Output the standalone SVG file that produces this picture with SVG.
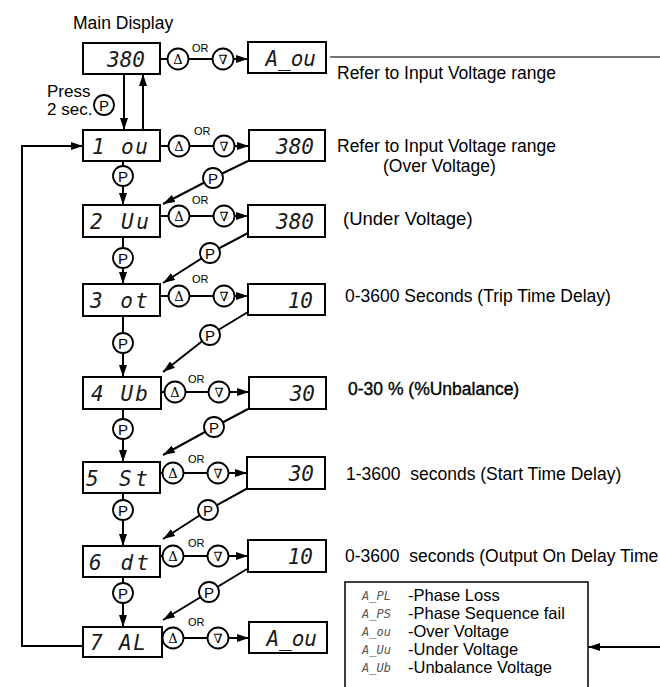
<svg xmlns="http://www.w3.org/2000/svg" width="660" height="687" viewBox="0 0 660 687">
<style>
.bx{fill:#fff;stroke:#000;stroke-width:2}
.c{fill:#fff;stroke:#000;stroke-width:1.8}
.ln{fill:none;stroke:#000;stroke-width:2}
.seg{font-family:"DejaVu Sans Mono",monospace;font-style:italic;font-size:21px;fill:#1a1a1a}
.t{font-family:"Liberation Sans",Arial,sans-serif;font-size:17.5px;fill:#000;white-space:pre}
.or{font-family:"Liberation Sans",Arial,sans-serif;font-size:11px;fill:#000}
.p{font-family:"Liberation Sans",Arial,sans-serif;font-size:15px;fill:#000;text-anchor:middle}
.sym{font-family:"DejaVu Serif",serif;font-size:13px;fill:#000;text-anchor:middle}
.lg{font-family:"Liberation Sans",Arial,sans-serif;font-size:16.5px;fill:#000}
.lc{font-family:"DejaVu Sans Mono",monospace;font-style:italic;font-size:12px;fill:#555}
</style>
<defs>
<marker id="ah" viewBox="0 0 12 8" refX="12" refY="4" markerWidth="12" markerHeight="8" markerUnits="userSpaceOnUse" orient="auto">
<path d="M0,0 L12,4 L0,8 z" fill="#000"/>
</marker>
</defs>

<g id="connectors">
<line class="ln" x1="160" y1="59" x2="248" y2="59" marker-end="url(#ah)"/>
<line class="ln" x1="160" y1="146" x2="249" y2="146" marker-end="url(#ah)"/>
<line class="ln" x1="160" y1="216" x2="248" y2="216" marker-end="url(#ah)"/>
<line class="ln" x1="160" y1="296" x2="248" y2="296" marker-end="url(#ah)"/>
<line class="ln" x1="160" y1="392" x2="249" y2="392" marker-end="url(#ah)"/>
<line class="ln" x1="160" y1="473" x2="247" y2="473" marker-end="url(#ah)"/>
<line class="ln" x1="160" y1="556" x2="248" y2="556" marker-end="url(#ah)"/>
<line class="ln" x1="162" y1="638" x2="249" y2="638" marker-end="url(#ah)"/>
<line class="ln" x1="124" y1="74" x2="124" y2="130" marker-end="url(#ah)"/>
<line class="ln" x1="143" y1="130" x2="143" y2="74" marker-end="url(#ah)"/>
<line class="ln" x1="123" y1="161" x2="123" y2="205" marker-end="url(#ah)"/>
<line class="ln" x1="123" y1="237" x2="123" y2="284" marker-end="url(#ah)"/>
<line class="ln" x1="123" y1="316" x2="123" y2="377" marker-end="url(#ah)"/>
<line class="ln" x1="123" y1="409" x2="123" y2="462" marker-end="url(#ah)"/>
<line class="ln" x1="123" y1="493" x2="123" y2="546" marker-end="url(#ah)"/>
<line class="ln" x1="123" y1="577" x2="123" y2="627" marker-end="url(#ah)"/>
<polyline class="ln" points="248,161 213,178 163,204" marker-end="url(#ah)"/>
<polyline class="ln" points="248,233 210,253 163,283" marker-end="url(#ah)"/>
<polyline class="ln" points="248,312 210,335 163,372" marker-end="url(#ah)"/>
<polyline class="ln" points="248,409 214,427 163,455" marker-end="url(#ah)"/>
<polyline class="ln" points="248,488 208,510 163,539" marker-end="url(#ah)"/>
<polyline class="ln" points="247,569 209,592 163,620" marker-end="url(#ah)"/>
<polyline class="ln" points="83,646 22,646 22,146 83,146" marker-end="url(#ah)"/>
<line x1="330" y1="57" x2="660" y2="57" stroke="#444" stroke-width="1.6"/>
<line class="ln" x1="660" y1="647" x2="588" y2="647" marker-end="url(#ah)"/>
</g>

<g id="main-display">
<text class="t" x="73" y="29">Main Display</text>
<rect class="bx" x="83" y="43" width="77" height="31"/>
<text class="seg" x="145" y="67" text-anchor="end">380</text>
<text class="t" x="47" y="97" style="font-size:17px">Press</text>
<text class="t" x="47" y="115" style="font-size:17px">2 sec.</text>
<circle class="c" cx="104" cy="105" r="10"/><text class="p" x="104" y="110.5">P</text>
</g>

<g id="row0-buttons">
<circle class="c" cx="178" cy="59" r="10.5"/><text class="sym" x="178" y="63.5">Δ</text>
<text class="or" x="192" y="52">OR</text>
<circle class="c" cx="223" cy="59" r="10.5"/><text class="sym" x="223" y="63.5">∇</text>
</g>
<g id="row0-value">
<rect class="bx" x="248" y="42" width="78" height="31"/>
<text class="seg" x="316" y="66" text-anchor="end">A_ou</text>
<text class="t" x="337" y="79">Refer to Input Voltage range</text>
</g>

<g id="row1">
<rect class="bx" x="83" y="130" width="77" height="31"/>
<text class="seg" x="92" y="154" textLength="56" lengthAdjust="spacing">1 ou</text>
<circle class="c" cx="179" cy="146" r="10.5"/><text class="sym" x="179" y="150.5">Δ</text>
<text class="or" x="194" y="135">OR</text>
<circle class="c" cx="224" cy="146" r="10.5"/><text class="sym" x="224" y="150.5">∇</text>
<rect class="bx" x="249" y="130" width="76" height="31"/>
<text class="seg" x="314" y="154" text-anchor="end">380</text>
<text class="t" x="337" y="152">Refer to Input Voltage range</text>
<text class="t" x="383" y="172">(Over Voltage)</text>
</g>

<g id="row2">
<rect class="bx" x="83" y="205" width="77" height="32"/>
<text class="seg" x="90" y="229" textLength="59" lengthAdjust="spacing">2 Uu</text>
<circle class="c" cx="179" cy="216" r="10.5"/><text class="sym" x="179" y="220.5">Δ</text>
<text class="or" x="192" y="204">OR</text>
<circle class="c" cx="224" cy="216" r="10.5"/><text class="sym" x="224" y="220.5">∇</text>
<rect class="bx" x="248" y="205" width="77" height="32"/>
<text class="seg" x="314" y="229" text-anchor="end">380</text>
<text class="t" x="343" y="225" style="font-size:18.5px">(Under Voltage)</text>
</g>

<g id="row3">
<rect class="bx" x="83" y="284" width="77" height="32"/>
<text class="seg" x="90" y="308" textLength="58" lengthAdjust="spacing">3 ot</text>
<circle class="c" cx="179" cy="296" r="10.5"/><text class="sym" x="179" y="300.5">Δ</text>
<text class="or" x="192" y="283">OR</text>
<circle class="c" cx="224" cy="296" r="10.5"/><text class="sym" x="224" y="300.5">∇</text>
<rect class="bx" x="248" y="284" width="77" height="31"/>
<text class="seg" x="313" y="308" text-anchor="end">10</text>
<text class="t" x="345" y="302">0-3600 Seconds (Trip Time Delay)</text>
</g>

<g id="row4">
<rect class="bx" x="83" y="377" width="78" height="32"/>
<text class="seg" x="91" y="401" textLength="57" lengthAdjust="spacing">4 Ub</text>
<circle class="c" cx="175" cy="392" r="10.5"/><text class="sym" x="175" y="396.5">Δ</text>
<text class="or" x="188" y="383">OR</text>
<circle class="c" cx="219" cy="392" r="10.5"/><text class="sym" x="219" y="396.5">∇</text>
<rect class="bx" x="249" y="377" width="77" height="32"/>
<text class="seg" x="315" y="401" text-anchor="end">30</text>
<text class="t" x="348" y="395" style="stroke:#000;stroke-width:0.35">0-30 % (%Unbalance)</text>
</g>

<g id="row5">
<rect class="bx" x="83" y="462" width="77" height="31"/>
<text class="seg" x="86" y="486" textLength="62" lengthAdjust="spacing">5 St</text>
<circle class="c" cx="173" cy="473" r="10.5"/><text class="sym" x="173" y="477.5">Δ</text>
<text class="or" x="188" y="463">OR</text>
<circle class="c" cx="218" cy="473" r="10.5"/><text class="sym" x="218" y="477.5">∇</text>
<rect class="bx" x="247" y="457" width="78" height="32"/>
<text class="seg" x="314" y="481" text-anchor="end">30</text>
<text class="t" x="346" y="480">1-3600  seconds (Start Time Delay)</text>
</g>

<g id="row6">
<rect class="bx" x="83" y="546" width="77" height="31"/>
<text class="seg" x="89" y="570" textLength="60" lengthAdjust="spacing">6 dt</text>
<circle class="c" cx="173" cy="556" r="10.5"/><text class="sym" x="173" y="560.5">Δ</text>
<text class="or" x="188" y="547">OR</text>
<circle class="c" cx="218" cy="556" r="10.5"/><text class="sym" x="218" y="560.5">∇</text>
<rect class="bx" x="248" y="540" width="78" height="32"/>
<text class="seg" x="313" y="564" text-anchor="end">10</text>
<text class="t" x="345" y="562">0-3600  seconds (Output On Delay Time</text>
</g>

<g id="row7">
<rect class="bx" x="83" y="627" width="79" height="30"/>
<text class="seg" x="90" y="650" textLength="56" lengthAdjust="spacing">7 AL</text>
<circle class="c" cx="173" cy="638" r="10.5"/><text class="sym" x="173" y="642.5">Δ</text>
<text class="or" x="188" y="626">OR</text>
<circle class="c" cx="218" cy="638" r="10.5"/><text class="sym" x="218" y="642.5">∇</text>
<rect class="bx" x="249" y="622" width="78" height="31"/>
<text class="seg" x="317" y="646" text-anchor="end">A_ou</text>
</g>

<g id="p-buttons">
<circle class="c" cx="123" cy="176" r="10"/><text class="p" x="123" y="181.5">P</text>
<circle class="c" cx="123" cy="258" r="10"/><text class="p" x="123" y="263.5">P</text>
<circle class="c" cx="123" cy="343" r="10"/><text class="p" x="123" y="348.5">P</text>
<circle class="c" cx="123" cy="429" r="10"/><text class="p" x="123" y="434.5">P</text>
<circle class="c" cx="123" cy="510" r="10"/><text class="p" x="123" y="515.5">P</text>
<circle class="c" cx="123" cy="593" r="10"/><text class="p" x="123" y="598.5">P</text>
<circle class="c" cx="213" cy="178" r="10"/><text class="p" x="213" y="183.5">P</text>
<circle class="c" cx="210" cy="253" r="10"/><text class="p" x="210" y="258.5">P</text>
<circle class="c" cx="210" cy="335" r="10"/><text class="p" x="210" y="340.5">P</text>
<circle class="c" cx="214" cy="427" r="10"/><text class="p" x="214" y="432.5">P</text>
<circle class="c" cx="208" cy="510" r="10"/><text class="p" x="208" y="515.5">P</text>
<circle class="c" cx="209" cy="592" r="10"/><text class="p" x="209" y="597.5">P</text>
</g>

<g id="legend">
<rect x="345" y="582" width="243" height="120" fill="#fff" stroke="#000" stroke-width="1.5"/>
<text class="lc" x="362" y="600">A_PL</text><text class="lg" x="408" y="600.5">-Phase Loss</text>
<text class="lc" x="362" y="618">A_PS</text><text class="lg" x="408" y="618.5">-Phase Sequence fail</text>
<text class="lc" x="362" y="636">A_ou</text><text class="lg" x="408" y="636.5">-Over Voltage</text>
<text class="lc" x="362" y="654">A_Uu</text><text class="lg" x="408" y="654.5">-Under Voltage</text>
<text class="lc" x="362" y="672">A_Ub</text><text class="lg" x="408" y="672.5">-Unbalance Voltage</text>
</g>
</svg>
